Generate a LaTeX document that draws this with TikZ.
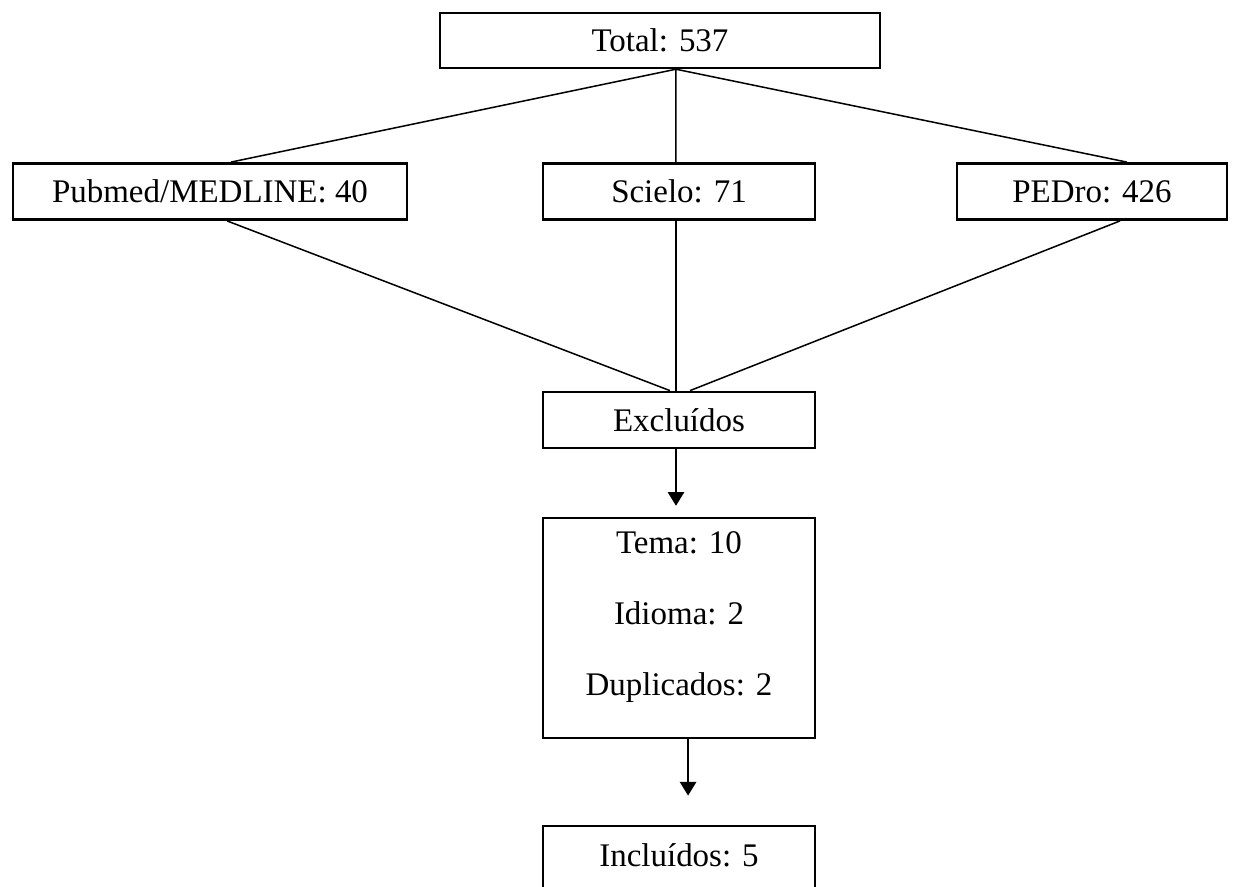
\documentclass[tikz,border=0pt]{standalone}
\usepackage{fontspec}
\setmainfont{Liberation Serif}
\usetikzlibrary{arrows.meta}

\begin{document}
\begin{tikzpicture}[x=0.364pt,y=-0.364pt,font=\fontsize{12}{14.4}\selectfont]
                \tikzstyle{box node}=[rectangle,draw,line width=0.9pt,inner sep=0pt,text height=8pt,text depth=0pt,minimum height=20.5pt]
                \tikzstyle{link}=[line width=0.55pt]
                \tikzstyle{flow}=[line width=0.55pt,-{Triangle[width=6pt,length=5pt]}]
                \clip (0,0) rectangle (1233,886);
                % bases
                \node(total)[box node,minimum width=160.2pt,minimum height=20pt] at (660,40.5){Total: 537};
                \node(pubmed)[box node,minimum width=143.4pt] at (210,191.5){Pubmed/MEDLINE: 40};
                \node(scielo)[box node,minimum width=99pt] at (679,191.5){Scielo: 71};
                \node(pedro)[box node,minimum width=98.3pt] at (1092,191.5){PEDro: 426};
                % triagem
                \node(excluidos)[box node,minimum width=99pt] at (679,420){Excluídos};
                \node(motivos)[box node,minimum width=99pt,minimum height=80.1pt] at (679,628){};
                \node(motivostxt)[align=center,inner sep=0pt] at (679,617){Tema: 10\\[11.4pt]Idioma: 2\\[11.4pt]Duplicados: 2};
                \node(incluidos)[box node,minimum width=99pt,minimum height=27pt,text depth=5.8pt] at (679,863){Incluídos: 5};
                \draw[link] ([xshift=5.8pt]total.south) -- ([xshift=7.6pt]pubmed.north);
                \draw[link] ([xshift=5.8pt]total.south) -- ([xshift=-1.1pt]scielo.north);
                \draw[link] ([xshift=5.8pt]total.south) -- ([xshift=12.7pt]pedro.north);
                \draw[link] ([xshift=6.2pt]pubmed.south) -- ([xshift=-3.3pt]excluidos.north);
                \draw[link] ([xshift=-1.1pt]scielo.south) -- ([xshift=-1.1pt]excluidos.north);
                \draw[link] ([xshift=10.2pt]pedro.south) -- ([xshift=4pt]excluidos.north);
                \draw[flow,shorten >=4pt] ([xshift=-1.1pt]excluidos.south) -- ([xshift=-1.1pt]motivos.north);
                \draw[flow,shorten >=10.6pt] ([xshift=3.3pt]motivos.south) -- ([xshift=3.3pt]incluidos.north);
            \end{tikzpicture}
\end{document}
